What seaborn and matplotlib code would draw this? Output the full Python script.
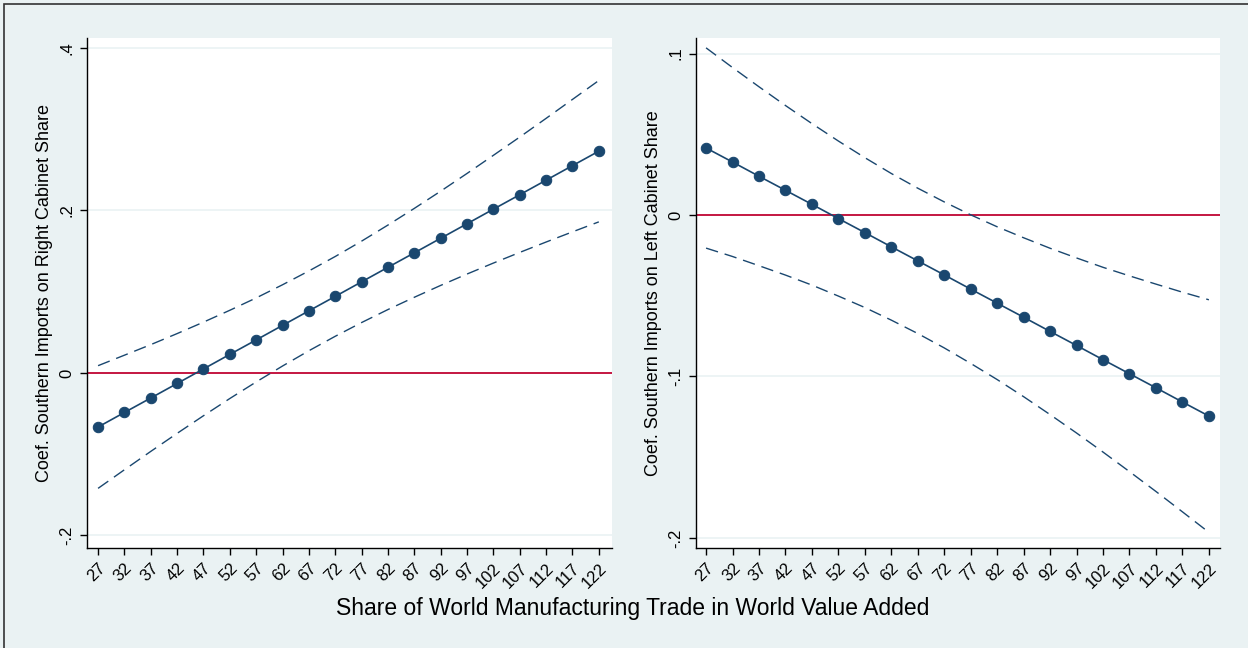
import numpy as np
import pandas as pd
import matplotlib
matplotlib.use("Agg")
import matplotlib.pyplot as plt
from matplotlib.patches import Rectangle
import seaborn as sns

# ---- data ----
x_vals = [27, 32, 37, 42, 47, 52, 57, 62, 67, 72, 77, 82, 87, 92, 97, 102, 107, 112, 117, 122]

right_est = [-0.0665, -0.0486, -0.0308, -0.0129, 0.0050, 0.0229, 0.0407, 0.0586, 0.0765, 0.0943,
             0.1122, 0.1301, 0.1479, 0.1658, 0.1837, 0.2016, 0.2194, 0.2373, 0.2552, 0.2730]
right_hi = [0.0090, 0.0219, 0.0349, 0.0485, 0.0626, 0.0772, 0.0924, 0.1086, 0.1256, 0.1434,
            0.1623, 0.1821, 0.2026, 0.2238, 0.2456, 0.2679, 0.2904, 0.3134, 0.3367, 0.3600]
right_lo = [-0.1420, -0.1191, -0.0965, -0.0743, -0.0526, -0.0314, -0.0110, 0.0086, 0.0274, 0.0452,
            0.0621, 0.0781, 0.0932, 0.1078, 0.1218, 0.1353, 0.1484, 0.1612, 0.1737, 0.1860]

left_est = [0.0415, 0.0328, 0.0240, 0.0153, 0.0066, -0.0022, -0.0109, -0.0197, -0.0284, -0.0371,
            -0.0459, -0.0546, -0.0633, -0.0721, -0.0808, -0.0896, -0.0983, -0.1070, -0.1158, -0.1245]
left_hi = [0.1035, 0.0913, 0.0794, 0.0678, 0.0566, 0.0458, 0.0355, 0.0257, 0.0166, 0.0081,
           0.0001, -0.0073, -0.0141, -0.0206, -0.0266, -0.0324, -0.0377, -0.0428, -0.0478, -0.0525]
left_lo = [-0.0205, -0.0257, -0.0314, -0.0372, -0.0434, -0.0502, -0.0573, -0.0651, -0.0734, -0.0823,
           -0.0919, -0.1019, -0.1125, -0.1236, -0.1350, -0.1468, -0.1589, -0.1712, -0.1838, -0.1965]

left_yticks = [-0.2, 0, 0.2, 0.4]
left_yticklabels = ["-.2", "0", ".2", ".4"]
right_yticks = [-0.2, -0.1, 0, 0.1]
right_yticklabels = ["-.2", "-.1", "0", ".1"]

ylabel_left = "Coef. Southern Imports on Right Cabinet Share"
ylabel_right = "Coef. Southern Imports on Left Cabinet Share"
xlabel = "Share of World Manufacturing Trade in World Value Added"

# ---- style ----
sns.set_theme(style="white")
plt.rcParams['font.family'] = ['Liberation Sans', 'DejaVu Sans']
plt.rcParams['text.color'] = 'black'
plt.rcParams['axes.labelcolor'] = 'black'
plt.rcParams['xtick.color'] = 'black'
plt.rcParams['ytick.color'] = 'black'

BG = "#EAF2F3"
NAVY = "#1A476F"
RED = "#C10534"

fig = plt.figure(figsize=(12.48, 6.48), dpi=100)
fig.patch.set_facecolor(BG)
fig.patches.append(Rectangle((4/1248, -0.05), 1.2, 1 - 4/648 + 0.05, transform=fig.transFigure,
                             fill=False, edgecolor="#333333", linewidth=1.2, zorder=0))

ax1 = fig.add_axes([87/1248, 1 - 548/648, 525/1248, 510/648])
ax2 = fig.add_axes([696/1248, 1 - 548/648, 524/1248, 510/648])

def panel(ax, est, hi, lo, yticks, yticklabels, ylabel, xlim, ylim):
    df = pd.DataFrame({"x": x_vals, "est": est, "hi": hi, "lo": lo})
    ax.set_facecolor("white")
    for t in yticks:
        ax.axhline(t, color=BG, linewidth=1.2, zorder=0)
    ax.axhline(0, color=RED, linewidth=1.3, zorder=1)
    sns.lineplot(data=df, x="x", y="hi", ax=ax, color=NAVY, linewidth=1.0, zorder=2)
    ax.lines[-1].set_dashes([9, 5])
    sns.lineplot(data=df, x="x", y="lo", ax=ax, color=NAVY, linewidth=1.0, zorder=2)
    ax.lines[-1].set_dashes([9, 5])
    sns.lineplot(data=df, x="x", y="est", ax=ax, color=NAVY, linewidth=1.2,
                 marker="o", markersize=7.5, markeredgecolor=NAVY, zorder=3)
    ax.set_xlim(*xlim)
    ax.set_ylim(*ylim)
    ax.set_xticks(x_vals)
    ax.set_xticklabels([str(v) for v in x_vals], rotation=45, ha="right",
                       rotation_mode="anchor", fontsize=12)
    ax.set_yticks(yticks)
    ax.set_yticklabels(yticklabels, rotation=90, va="center", fontsize=12)
    ax.tick_params(axis="both", which="major", direction="out", length=5, width=1,
                   color="black", labelcolor="black", bottom=True, left=True, pad=4)
    for s in ["top", "right"]:
        ax.spines[s].set_visible(False)
    for s in ["left", "bottom"]:
        ax.spines[s].set_color("black")
        ax.spines[s].set_linewidth(1.0)
    ax.set_xlabel("")
    ax.set_ylabel(ylabel, fontsize=13, labelpad=5, color="black")

panel(ax1, right_est, right_hi, right_lo, left_yticks, left_yticklabels, ylabel_left,
      (24.9, 124.5), (-0.2154, 0.4123))
panel(ax2, left_est, left_hi, left_lo, right_yticks, right_yticklabels, ylabel_right,
      (25.1, 124.1), (-0.2062, 0.1096))

fig.text(633/1248, 1 - 609/648, xlabel, ha="center", va="center", fontsize=16.5, color="black")

fig.savefig("out.png", dpi=100, facecolor=BG)
